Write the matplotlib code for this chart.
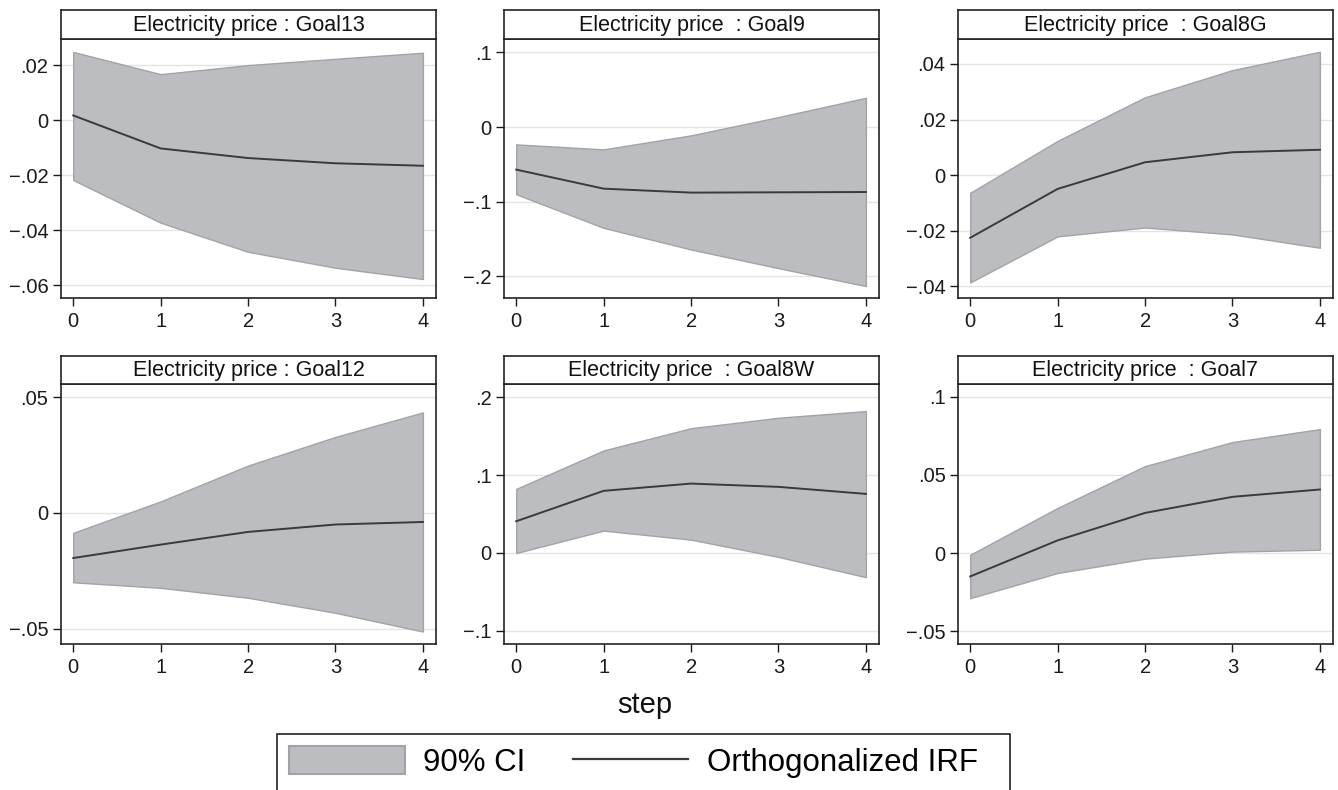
import matplotlib
matplotlib.use("Agg")
import matplotlib.pyplot as plt
from matplotlib.patches import Patch, Rectangle
from matplotlib.lines import Line2D

plt.rcParams['font.family'] = ['Liberation Sans', 'DejaVu Sans']

# ===============================
# DATA
# ===============================
steps = [0, 1, 2, 3, 4]

titles = [
    "Electricity price : Goal13",
    "Electricity price  : Goal9",
    "Electricity price  : Goal8G",
    "Electricity price : Goal12",
    "Electricity price  : Goal8W",
    "Electricity price  : Goal7",
]

irf_goal13 = [0.0017, -0.0103, -0.0138, -0.0157, -0.0166]
lo_goal13 = [-0.0218, -0.0373, -0.0479, -0.0537, -0.0578]
hi_goal13 = [0.0248, 0.0167, 0.0200, 0.0223, 0.0245]

irf_goal9 = [-0.057, -0.0825, -0.0878, -0.0874, -0.087]
lo_goal9 = [-0.090, -0.135, -0.164, -0.189, -0.213]
hi_goal9 = [-0.0232, -0.0299, -0.0111, 0.0134, 0.0392]

irf_goal8g = [-0.0226, -0.0050, 0.0046, 0.0082, 0.0091]
lo_goal8g = [-0.0387, -0.0221, -0.0189, -0.0214, -0.0262]
hi_goal8g = [-0.0064, 0.0123, 0.0280, 0.0378, 0.0444]

irf_goal12 = [-0.0195, -0.0137, -0.0082, -0.0050, -0.0039]
lo_goal12 = [-0.0300, -0.0324, -0.0367, -0.0432, -0.0513]
hi_goal12 = [-0.0086, 0.0050, 0.0205, 0.0329, 0.0435]

irf_goal8w = [0.0407, 0.0797, 0.0890, 0.0848, 0.0758]
lo_goal8w = [0.0000, 0.0287, 0.0171, -0.0050, -0.0310]
hi_goal8w = [0.0822, 0.1315, 0.1600, 0.1734, 0.1820]

irf_goal7 = [-0.0150, 0.0081, 0.0257, 0.0360, 0.0407]
lo_goal7 = [-0.0289, -0.0128, -0.0036, 0.0009, 0.0021]
hi_goal7 = [-0.0011, 0.0289, 0.0557, 0.0711, 0.0794]

irfs = [irf_goal13, irf_goal9, irf_goal8g, irf_goal12, irf_goal8w, irf_goal7]
lows = [lo_goal13, lo_goal9, lo_goal8g, lo_goal12, lo_goal8w, lo_goal7]
highs = [hi_goal13, hi_goal9, hi_goal8g, hi_goal12, hi_goal8w, hi_goal7]

yticks = [
    [0.02, 0, -0.02, -0.04, -0.06],
    [0.1, 0, -0.1, -0.2],
    [0.04, 0.02, 0, -0.02, -0.04],
    [0.05, 0, -0.05],
    [0.2, 0.1, 0, -0.1],
    [0.1, 0.05, 0, -0.05],
]
ylims = [
    (-0.0647, 0.0295),
    (-0.229, 0.118),
    (-0.0443, 0.049),
    (-0.0567, 0.0558),
    (-0.1167, 0.2167),
    (-0.0583, 0.1083),
]

# ===============================
# STYLE
# ===============================
W, H = 1338, 790
CI_FACE = "#bcbdc1"
CI_EDGE = "#a2a3a7"
LINE_COL = "#3a3a3a"
GRID_COL = "#e4e4e4"

col_left = [61, 504, 958]
panel_w = 375
rows = [(10, 39, 298), (356, 384, 644)]  # title top, plot top, plot bottom


def stata_label(v):
    if abs(v) < 1e-12:
        return "0"
    s = f"{abs(v):g}".lstrip("0")
    return ("\u2212" if v < 0 else "") + s


def px_rect(x0, top, w, bottom):
    return [x0 / W, 1 - bottom / H, w / W, (bottom - top) / H]


fig = plt.figure(figsize=(W / 100, H / 100), dpi=100)

for i in range(6):
    r, c = divmod(i, 3)
    t_top, p_top, p_bot = rows[r]
    x0 = col_left[c]

    ax = fig.add_axes(px_rect(x0, p_top, panel_w, p_bot))
    ax.fill_between(steps, lows[i], highs[i], facecolor=CI_FACE,
                    edgecolor=CI_EDGE, linewidth=1.0, zorder=2)
    ax.plot(steps, irfs[i], color=LINE_COL, linewidth=1.4, zorder=3)

    ax.set_xlim(-0.14, 4.15)
    ax.set_ylim(*ylims[i])
    ax.set_xticks(steps)
    ax.set_xticklabels([str(s) for s in steps])
    ax.set_yticks(yticks[i])
    ax.set_yticklabels([stata_label(v) for v in yticks[i]])
    ax.grid(axis="y", color=GRID_COL, linewidth=1.0, zorder=0)
    ax.set_axisbelow(True)
    ax.tick_params(axis="both", direction="out", length=6, width=1.0,
                   labelsize=14.5, colors="#1a1a1a")
    ax.tick_params(axis="x", pad=4)
    ax.tick_params(axis="y", pad=3)
    for sp in ax.spines.values():
        sp.set_linewidth(1.2)
        sp.set_color("#222222")

    # title box
    tax = fig.add_axes(px_rect(x0, t_top, panel_w, p_top))
    tax.set_xticks([])
    tax.set_yticks([])
    for sp in tax.spines.values():
        sp.set_linewidth(1.2)
        sp.set_color("#222222")
    tax.text(0.5, 0.48, titles[i], ha="center", va="center",
             fontsize=15.5, color="#111111", transform=tax.transAxes)

fig.text(645 / W, 1 - 705 / H, "step", ha="center", va="center",
         fontsize=21, color="#111111")

# legend box (runs off the bottom edge as in the reference)
fig.patches.append(Rectangle((277 / W, -0.05), (1010 - 277) / W,
                             1 - 734 / H + 0.05, transform=fig.transFigure,
                             facecolor="white", edgecolor="#222222",
                             linewidth=1.2, zorder=0))
handles = [
    Patch(facecolor=CI_FACE, edgecolor=CI_EDGE, linewidth=1.5, label="90% CI"),
    Line2D([], [], color=LINE_COL, linewidth=1.6, label="Orthogonalized IRF"),
]
fig.legend(handles=handles, loc="center left", ncol=2, frameon=False,
           bbox_to_anchor=(289 / W, 1 - 762 / H), borderpad=0,
           fontsize=22.5, handlelength=3.7, handleheight=1.0,
           handletextpad=0.6, columnspacing=1.5, borderaxespad=0)

fig.savefig("out.png", dpi=100)
